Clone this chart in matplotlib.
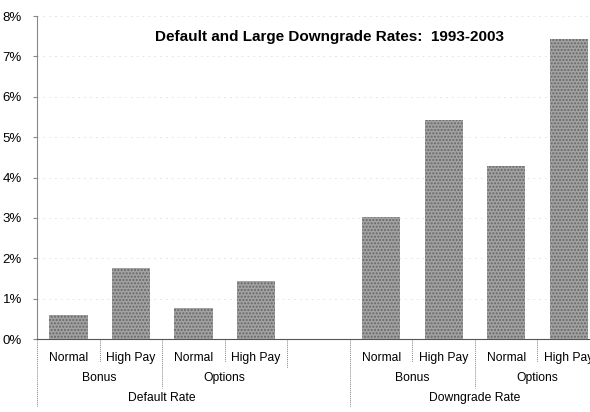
import numpy as np
import matplotlib
matplotlib.use("Agg")
import matplotlib.pyplot as plt

plt.rcParams['font.family'] = ['Liberation Sans Narrow', 'Liberation Sans', 'DejaVu Sans']

# values (percent)
pay_levels = ['Normal', 'High Pay']
comp_types = ['Bonus', 'Options']
rate_types = ['Default Rate', 'Downgrade Rate']
default_rate = [0.6, 1.77, 0.76, 1.44]
downgrade_rate = [3.02, 5.42, 4.28, 7.42]

pos_default = np.arange(4)
pos_down = np.arange(4) + 5

fig = plt.figure(figsize=(5.9, 4.12), dpi=100)
ax = fig.add_axes([0.063, 0.177, 0.954, 0.784])

bar_kw = dict(width=0.61, color='#a2a2a2', edgecolor='#666666', hatch='.....', linewidth=0)
ax.bar(pos_default, default_rate, **bar_kw)
ax.bar(pos_down, downgrade_rate, **bar_kw)

ax.set_xlim(-0.5, 8.5)
ax.set_ylim(0, 8)
ax.set_yticks(range(0, 9))
ax.set_yticklabels(['%d%%' % i for i in range(0, 9)], fontsize=9.5)
ax.yaxis.grid(True, color='#e6e6e6', linestyle=(0, (2, 4)), linewidth=0.7)
ax.set_axisbelow(True)

for s in ['top', 'right']:
    ax.spines[s].set_visible(False)
ax.spines['left'].set_color('#888888')
ax.spines['left'].set_linestyle((0, (1, 1)))
ax.spines['bottom'].set_color('#555555')
ax.spines['bottom'].set_linewidth(0.8)
ax.tick_params(axis='y', length=3, color='#888888', pad=8)

# first level labels
ax.set_xticks(list(pos_default) + list(pos_down))
ax.set_xticklabels(pay_levels * 4, fontsize=8.7)
ax.tick_params(axis='x', length=0, pad=9)

tr = ax.get_xaxis_transform()
# second level (compensation type) and third level (rate type)
for k, start in enumerate([0, 5]):
    for j, c in enumerate(comp_types):
        ax.text(start + 2 * j + 0.5, -0.122, c, transform=tr, ha='center', va='center', fontsize=8.7)
    ax.text(start + 1.5, -0.183, rate_types[k], transform=tr, ha='center', va='center', fontsize=8.7)

# separators
sep = [(-0.5, -0.21), (0.5, -0.07), (1.5, -0.15), (2.5, -0.07), (3.5, -0.09),
       (4.5, -0.21), (5.5, -0.07), (6.5, -0.15), (7.5, -0.07)]
for x, y in sep:
    ax.plot([x, x], [0, y], transform=tr, clip_on=False, color='#888888',
            linewidth=0.7, linestyle=(0, (1, 1)))

fig.text(0.558, 0.91, 'Default and Large Downgrade Rates:  1993-2003',
         ha='center', va='center', fontsize=11, fontweight='bold')

fig.savefig('out.png', dpi=100)
